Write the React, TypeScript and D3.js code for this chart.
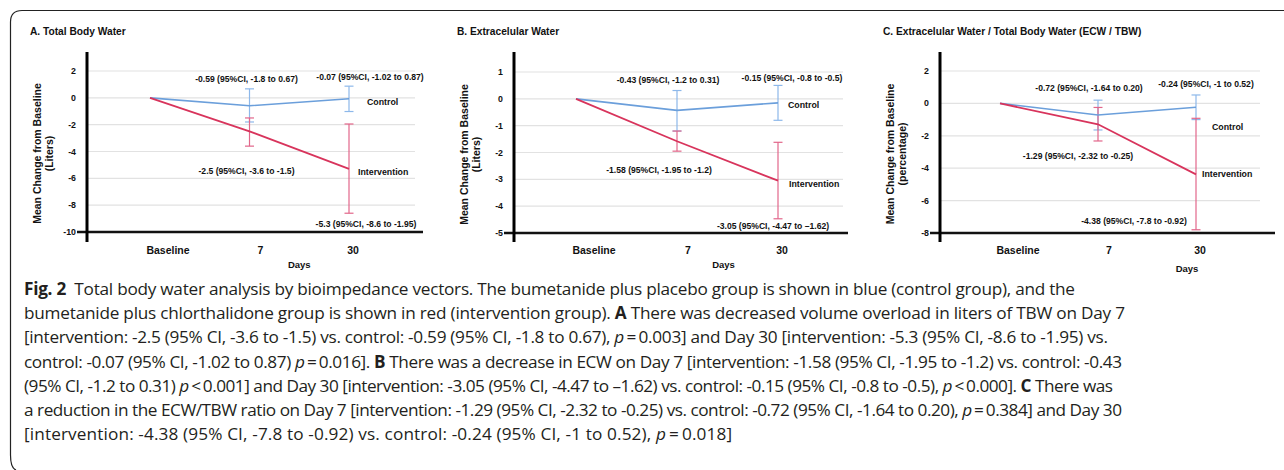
import * as d3 from 'd3'

const W = 1284
const H = 470
const days = ['Baseline', '7', '30']

// A. Total Body Water (liters)
const tbwControl = [0, -0.59, -0.07]
const tbwControlLo = [0, -1.8, -1.02]
const tbwControlHi = [0, 0.67, 0.87]
const tbwInterv = [0, -2.5, -5.3]
const tbwIntervLo = [0, -3.6, -8.6]
const tbwIntervHi = [0, -1.5, -1.95]
const tbwTicks = [2, 0, -2, -4, -6, -8, -10]

// B. Extracellular water (liters)
const ecwControl = [0, -0.43, -0.15]
const ecwControlLo = [0, -1.2, -0.8]
const ecwControlHi = [0, 0.31, 0.5]
const ecwInterv = [0, -1.58, -3.05]
const ecwIntervLo = [0, -1.95, -4.47]
const ecwIntervHi = [0, -1.2, -1.62]
const ecwTicks = [1, 0, -1, -2, -3, -4, -5]

// C. ECW / TBW (percentage)
const ratioControl = [0, -0.72, -0.24]
const ratioControlLo = [0, -1.64, -1]
const ratioControlHi = [0, 0.2, 0.52]
const ratioInterv = [0, -1.29, -4.38]
const ratioIntervLo = [0, -2.32, -7.8]
const ratioIntervHi = [0, -0.25, -0.92]
const ratioTicks = [2, 0, -2, -4, -6, -8]

const BLUE = '#6b9fdb'
const RED = '#d8345c'
const BLUE_ERR = '#8db8ea'
const RED_ERR = '#e2668a'

type Note = { text: string; day: string; v: number; dx: number; anchor: 'start' | 'middle' }

const panels = [
  {
    title: 'A. Total Body Water', unit: '(Liters)', ticks: tbwTicks,
    left: 87, xr: [150, 349], gridEnd: 415, axisEnd: 423, yRange: [232, 71],
    control: tbwControl, cLo: tbwControlLo, cHi: tbwControlHi,
    interv: tbwInterv, iLo: tbwIntervLo, iHi: tbwIntervHi,
    notes: [
      { text: '-0.59 (95%CI, -1.8 to 0.67)', day: '7', v: 1.4, dx: -3, anchor: 'middle' },
      { text: '-0.07 (95%CI, -1.02 to 0.87)', day: '30', v: 1.55, dx: 21, anchor: 'middle' },
      { text: 'Control', day: '30', v: -0.31, dx: 18, anchor: 'start' },
      { text: '-2.5 (95%CI, -3.6 to -1.5)', day: '7', v: -5.45, dx: -3, anchor: 'middle' },
      { text: 'Intervention', day: '30', v: -5.53, dx: 9, anchor: 'start' },
      { text: '-5.3 (95%CI, -8.6 to -1.95)', day: '30', v: -9.4, dx: 17, anchor: 'middle' },
    ] as Note[],
    daysY: 264, daysDx: 0,
  },
  {
    title: 'B. Extracelular Water', unit: '(Liters)', ticks: ecwTicks,
    left: 514, xr: [576, 778], gridEnd: 843, axisEnd: 848, yRange: [233, 72],
    control: ecwControl, cLo: ecwControlLo, cHi: ecwControlHi,
    interv: ecwInterv, iLo: ecwIntervLo, iHi: ecwIntervHi,
    notes: [
      { text: '-0.43 (95%CI, -1.2 to 0.31)', day: '7', v: 0.7, dx: -9, anchor: 'middle' },
      { text: '-0.15 (95%CI, -0.8 to -0.5)', day: '30', v: 0.78, dx: 14, anchor: 'middle' },
      { text: 'Control', day: '30', v: -0.23, dx: 10, anchor: 'start' },
      { text: '-1.58 (95%CI, -1.95 to -1.2)', day: '7', v: -2.65, dx: -18, anchor: 'middle' },
      { text: 'Intervention', day: '30', v: -3.18, dx: 11, anchor: 'start' },
      { text: '-3.05 (95%CI, -4.47 to \u20131.62)', day: '30', v: -4.74, dx: -5, anchor: 'middle' },
    ] as Note[],
    daysY: 264, daysDx: -4,
  },
  {
    title: 'C. Extracelular Water / Total Body Water (ECW / TBW)', unit: '(percentage)', ticks: ratioTicks,
    left: 940, xr: [1000, 1196], gridEnd: 1260, axisEnd: 1275, yRange: [233, 71],
    control: ratioControl, cLo: ratioControlLo, cHi: ratioControlHi,
    interv: ratioInterv, iLo: ratioIntervLo, iHi: ratioIntervHi,
    notes: [
      { text: '-0.72 (95%CI, -1.64 to 0.20)', day: '7', v: 0.95, dx: -9, anchor: 'middle' },
      { text: '-0.24 (95%CI, -1 to 0.52)', day: '30', v: 1.2, dx: 10, anchor: 'middle' },
      { text: 'Control', day: '30', v: -1.46, dx: 16, anchor: 'start' },
      { text: '-1.29 (95%CI, -2.32 to -0.25)', day: '7', v: -3.25, dx: -20, anchor: 'middle' },
      { text: 'Intervention', day: '30', v: -4.36, dx: 6, anchor: 'start' },
      { text: '-4.38 (95%CI, -7.8 to -0.92)', day: '30', v: -7.26, dx: -62, anchor: 'middle' },
    ] as Note[],
    daysY: 268, daysDx: 40,
  },
]

const chartFont = '"Liberation Sans", Arial, sans-serif'

function Panel({ p }: { p: typeof panels[number] }) {
  const y = d3.scaleLinear().domain([d3.min(p.ticks)!, d3.max(p.ticks)!]).range(p.yRange)
  const x = d3.scalePoint<string>().domain(days).range(p.xr)
  const xl = d3.scalePoint<string>().domain(days).range([p.xr[0] + 18, p.xr[1] + 4])
  const line = d3.line<number>().x((_, i) => x(days[i])!).y(d => y(d))
  const bottom = y(d3.min(p.ticks)!)

  const errBars = (lo: number[], hi: number[], color: string) =>
    days.map((d, i) => lo[i] === hi[i] ? null : (
      <g key={d} stroke={color} strokeWidth={1.2}>
        <line x1={x(d)} x2={x(d)} y1={y(hi[i])} y2={y(lo[i])} />
        <line x1={x(d)! - 4.5} x2={x(d)! + 4.5} y1={y(hi[i])} y2={y(hi[i])} />
        <line x1={x(d)! - 4.5} x2={x(d)! + 4.5} y1={y(lo[i])} y2={y(lo[i])} />
      </g>
    ))

  const midY = (p.yRange[0] + p.yRange[1]) / 2
  return (
    <g fontFamily={chartFont} fontWeight="bold" fill="#111">
      <text x={p.left - 57} y={31} fontSize={10.2} dominantBaseline="central">{p.title}</text>
      {p.ticks.map(t => (
        <g key={t}>
          {t !== d3.min(p.ticks) && (
            <line x1={p.left} x2={p.gridEnd} y1={y(t)} y2={y(t)} stroke="#e2e2e2" strokeWidth={1.2} />
          )}
          <text x={p.left - 11} y={y(t)} fontSize={8.8} textAnchor="end" dominantBaseline="central">{t}</text>
        </g>
      ))}
      <line x1={p.left - 10} x2={p.axisEnd} y1={bottom} y2={bottom} stroke="#111" strokeWidth={2.6} />
      <line x1={p.left} x2={p.left} y1={52} y2={242} stroke="#000" strokeWidth={3} />
      <g transform={`translate(${p.left - 50},${midY + 2}) rotate(-90)`} fontSize={10.5} textAnchor="middle">
        <text y={0} dominantBaseline="central">Mean Change from Baseline</text>
        <text y={12} dominantBaseline="central">{p.unit}</text>
      </g>
      {errBars(p.cLo, p.cHi, BLUE_ERR)}
      {errBars(p.iLo, p.iHi, RED_ERR)}
      <path d={line(p.control)!} fill="none" stroke={BLUE} strokeWidth={1.6} />
      <path d={line(p.interv)!} fill="none" stroke={RED} strokeWidth={1.8} />
      {p.notes.map(n => (
        <text key={n.text} x={x(n.day)! + n.dx} y={y(n.v)} fontSize={n.anchor === 'start' ? 8.8 : 8.6}
          textAnchor={n.anchor} dominantBaseline="central">{n.text}</text>
      ))}
      {days.map(d => (
        <text key={d} x={xl(d)} y={250} fontSize={10.5} textAnchor="middle" dominantBaseline="central">{d}</text>
      ))}
      <text x={(x('7')! + x('30')!) / 2 + p.daysDx} y={p.daysY} fontSize={9.5} textAnchor="middle"
        dominantBaseline="central">Days</text>
    </g>
  )
}

// caption lines: [text, style] segments, with the width each line fills
type Seg = [string, '' | 'b' | 'i']
const captionLines: Seg[][] = [
  [['Fig. 2', 'b'], ['\u2002Total body water analysis by bioimpedance vectors. The bumetanide plus placebo group is shown in blue (control group), and the', '']],
  [['bumetanide plus chlorthalidone group is shown in red (intervention group). ', ''], ['A', 'b'], [' There was decreased volume overload in liters of TBW on Day 7', '']],
  [['[intervention: -2.5 (95% CI, -3.6 to -1.5) vs. control: -0.59 (95% CI, -1.8 to 0.67), ', ''], ['p', 'i'], ['\u2009=\u20090.003] and Day 30 [intervention: -5.3 (95% CI, -8.6 to -1.95) vs.', '']],
  [['control: -0.07 (95% CI, -1.02 to 0.87) ', ''], ['p', 'i'], ['\u2009=\u20090.016]. ', ''], ['B', 'b'], [' There was a decrease in ECW on Day 7 [intervention: -1.58 (95% CI, -1.95 to -1.2) vs. control: -0.43', '']],
  [['(95% CI, -1.2 to 0.31) ', ''], ['p', 'i'], ['\u2009<\u20090.001] and Day 30 [intervention: -3.05 (95% CI, -4.47 to \u20131.62) vs. control: -0.15 (95% CI, -0.8 to -0.5), ', ''], ['p', 'i'], ['\u2009<\u20090.000]. ', ''], ['C', 'b'], [' There was', '']],
  [['a reduction in the ECW/TBW ratio on Day 7 [intervention: -1.29 (95% CI, -2.32 to -0.25) vs. control: -0.72 (95% CI, -1.64 to 0.20), ', ''], ['p', 'i'], ['\u2009=\u20090.384] and Day 30', '']],
  [['[intervention: -4.38 (95% CI, -7.8 to -0.92) vs. control: -0.24 (95% CI, -1 to 0.52), ', ''], ['p', 'i'], ['\u2009=\u20090.018]', '']],
]
const captionWidths = [1051, 1101, 1084, 1098, 1089, 1098, 708]

export default function App() {
  return (
    <svg width={W} height={H} style={{ display: 'block', position: 'absolute', left: 0, top: 0, background: '#fff' }}>
      <path d={`M${W},10.5 H22 Q10.5,10.5 10.5,22 V455 Q10.5,468 16,${H}`} fill="none" stroke="#222" strokeWidth={1.2} />
      {panels.map(p => <Panel key={p.title} p={p} />)}
      <g fontFamily='"Open Sans", "Noto Sans", sans-serif' fontSize={17.2} fill="#231f20">
        {captionLines.map((segs, i) => (
          <text key={i} x={24} y={288 + i * 24.2} dominantBaseline="central"
            textLength={captionWidths[i]} lengthAdjust="spacing">
            {segs.map(([t, s], j) => (
              <tspan key={j} fontWeight={s === 'b' ? 'bold' : 'normal'} fontStyle={s === 'i' ? 'italic' : 'normal'}>{t}</tspan>
            ))}
          </text>
        ))}
      </g>
    </svg>
  )
}
